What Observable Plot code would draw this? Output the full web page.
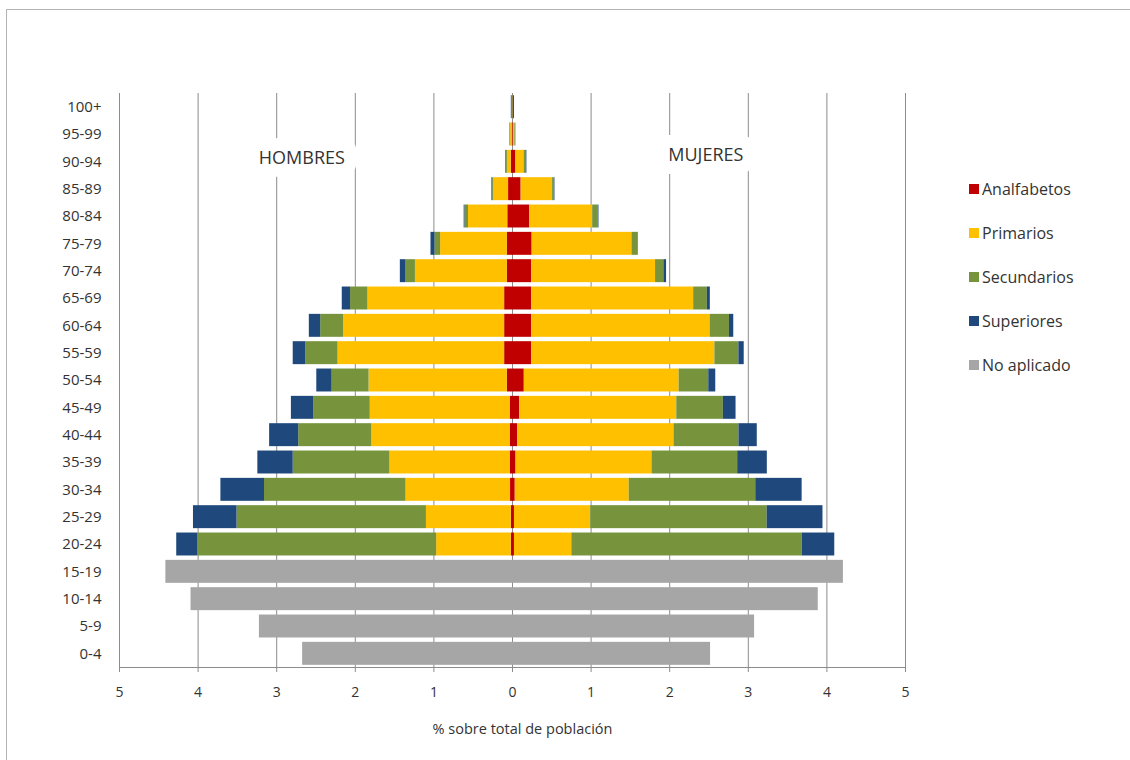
<!DOCTYPE html>
<html><head><meta charset="utf-8">
<script src="https://cdn.jsdelivr.net/npm/d3@7"></script>
<script src="https://cdn.jsdelivr.net/npm/@observablehq/plot@0.6"></script>
<style>
body{margin:0;background:#fff;font-family:"Open Sans",sans-serif;}
#wrap{position:relative;width:1130px;height:760px;overflow:hidden;background:#fff;}
#frame{position:absolute;left:6px;top:9px;width:1300px;height:900px;border:1px solid #b4b4b4;}
#chart{position:absolute;left:0;top:0;}
#legend{position:absolute;left:969px;top:0;}
.item{position:absolute;left:0;display:flex;align-items:center;white-space:nowrap;font-size:16px;color:#333;line-height:20px;}
.sw{width:10px;height:10px;margin-right:3px;}
</style></head><body>
<div id="wrap"><div id="frame"></div><div id="chart"></div><div id="legend"></div></div>
<script>
const ages = ["100+","95-99","90-94","85-89","80-84","75-79","70-74","65-69","60-64","55-59","50-54","45-49","40-44","35-39","30-34","25-29","20-24","15-19","10-14","5-9","0-4"];
const series = ["Analfabetos","Primarios","Secundarios","Superiores","No aplicado"];
const colors = ["#C00000","#FFC000","#77933C","#1F497D","#A6A6A6"];
const xTicks = [-5,-4,-3,-2,-1,0,1,2,3,4,5];

// Hombres (% sobre total de población)
const hAnalfabetos = [0.001,0.005,0.015,0.05,0.06,0.065,0.065,0.10,0.10,0.10,0.065,0.03,0.03,0.03,0.025,0.015,0.015,0,0,0,0];
const hPrimarios   = [0.003,0.018,0.05,0.19,0.50,0.85,1.17,1.74,2.05,2.12,1.76,1.78,1.76,1.53,1.33,1.08,0.95,0,0,0,0];
const hSecundarios = [0.001,0.006,0.012,0.012,0.045,0.072,0.12,0.22,0.29,0.41,0.47,0.72,0.93,1.23,1.80,2.41,3.04,0,0,0,0];
const hSuperiores  = [0.01,0.004,0.008,0.01,0.01,0.05,0.072,0.106,0.145,0.16,0.195,0.283,0.37,0.45,0.555,0.554,0.267,0,0,0,0];
const hNoAplicado  = [0,0,0,0,0,0,0,0,0,0,0,0,0,0,0,0,0,4.41,4.09,3.22,2.67];

// Mujeres
const mAnalfabetos = [0.002,0.01,0.043,0.11,0.22,0.25,0.245,0.245,0.245,0.245,0.15,0.09,0.065,0.045,0.035,0.025,0.025,0,0,0,0];
const mPrimarios   = [0.006,0.02,0.105,0.40,0.80,1.27,1.575,2.06,2.27,2.33,1.97,2.0,1.99,1.73,1.45,0.97,0.73,0,0,0,0];
const mSecundarios = [0.002,0.008,0.03,0.02,0.07,0.076,0.106,0.174,0.245,0.305,0.377,0.593,0.826,1.09,1.61,2.245,2.93,0,0,0,0];
const mSuperiores  = [0.015,0.004,0.005,0.01,0.01,0.005,0.034,0.038,0.055,0.068,0.089,0.161,0.233,0.377,0.59,0.71,0.415,0,0,0,0];
const mNoAplicado  = [0,0,0,0,0,0,0,0,0,0,0,0,0,0,0,0,0,4.21,3.89,3.08,2.52];

const sideLabels = [
  {text: "HOMBRES", x: -2.68, age: "90-94"},
  {text: "MUJERES", x: 2.46, age: "90-94"}
];
const axisTitle = "% sobre total de población";

const hombres = [hAnalfabetos,hPrimarios,hSecundarios,hSuperiores,hNoAplicado];
const mujeres = [mAnalfabetos,mPrimarios,mSecundarios,mSuperiores,mNoAplicado];
const data = [];
[[hombres,-1],[mujeres,1]].forEach(([arrs,sign]) => {
  arrs.forEach((arr,si) => {
    arr.forEach((v,i) => { if (v > 0) data.push({age: ages[i], series: series[si], value: sign*v}); });
  });
});

const plot = Plot.plot({
  width: 1130, height: 760,
  marginLeft: 119, marginRight: 225, marginTop: 93, marginBottom: 93,
  style: {fontFamily: "Open Sans", fontSize: "14px", color: "#333", background: "transparent", overflow: "visible"},
  x: {domain: [-5,5], label: null},
  y: {domain: ages, paddingInner: 0.16, paddingOuter: 0.08, round: false, label: null},
  color: {domain: series, range: colors},
  marks: [
    Plot.gridX(xTicks, {stroke: "#8c8c8c", strokeOpacity: 1}),
    Plot.barX(data, Plot.stackX({x: "value", y: "age", fill: "series"})),
    Plot.frame({anchor: "bottom", stroke: "#8c8c8c"}),
    Plot.axisX({ticks: xTicks, tickFormat: d => Math.abs(d), tickSize: 5, tickPadding: 15, stroke: "#8c8c8c", fill: "#333", label: null, fontSize: 14}),
    Plot.axisY({tickSize: 0, tickPadding: 18, label: null, fontSize: 15, fill: "#333"}),
    Plot.text(sideLabels.slice(0,1), {x: "x", y: "age", text: "text", dy: -4, fontSize: 18, fill: "#333", stroke: "white", strokeWidth: 26, strokeLinejoin: "round"}),
    Plot.text(sideLabels.slice(1), {x: "x", y: "age", text: "text", dy: -7, fontSize: 18, fill: "#333", stroke: "white", strokeWidth: 26, strokeLinejoin: "round"}),
    Plot.text([axisTitle], {frameAnchor: "bottom", dy: 66, dx: 10, fontSize: 14.5, fill: "#333"})
  ]
});
document.getElementById("chart").appendChild(plot);

const legend = document.getElementById("legend");
series.forEach((s,i) => {
  const it = document.createElement("div");
  it.className = "item";
  it.style.top = (179 + i*44) + "px";
  it.innerHTML = `<span class="sw" style="background:${colors[i]}"></span><span>${s}</span>`;
  legend.appendChild(it);
});
</script>
</body></html>
